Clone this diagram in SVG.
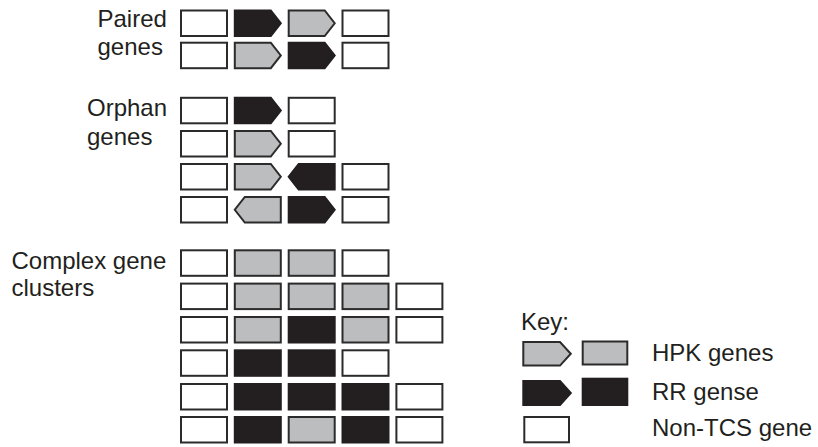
<svg xmlns="http://www.w3.org/2000/svg" xmlns:xlink="http://www.w3.org/1999/xlink" width="818" height="447" viewBox="0 0 818 447">
<style>
.w{fill:#ffffff;stroke:#2b2b2b;stroke-width:2}
.g{fill:#bcbdbf;stroke:#2b2b2b;stroke-width:2}
.b{fill:#231f20;stroke:#231f20;stroke-width:2}
.t{font-family:"Liberation Sans",Arial,sans-serif;font-size:24px;fill:#231f20}
</style>
<defs>
<rect id="box" x="1" y="1" width="46" height="25.5"/>
<path id="ar" d="M1,1H37L47,13.75L37,26.5H1Z"/>
<path id="al" d="M47,1H11L1,13.75L11,26.5H47Z"/>
</defs>
<rect width="818" height="447" fill="#ffffff"/>
<g id="labels">
<text class="t" x="97.5" y="27">Paired</text>
<text class="t" x="97.5" y="55">genes</text>
<text class="t" x="87" y="116">Orphan</text>
<text class="t" x="87" y="144.5">genes</text>
<text class="t" x="11.5" y="268.5">Complex gene</text>
<text class="t" x="11.5" y="296">clusters</text>
</g>
<g id="connectors"/>
<g id="paired">
<g id="p1c0"><use xlink:href="#box" class="w" x="180" y="9.5"/></g>
<g id="p1c1"><use xlink:href="#ar" class="b" x="233.8" y="9.5"/></g>
<g id="p1c2"><use xlink:href="#ar" class="g" x="287.7" y="9.5"/></g>
<g id="p1c3"><use xlink:href="#box" class="w" x="341.5" y="9.5"/></g>
<g id="p2c0"><use xlink:href="#box" class="w" x="180" y="41.7"/></g>
<g id="p2c1"><use xlink:href="#ar" class="g" x="233.8" y="41.7"/></g>
<g id="p2c2"><use xlink:href="#ar" class="b" x="287.7" y="41.7"/></g>
<g id="p2c3"><use xlink:href="#box" class="w" x="341.5" y="41.7"/></g>
</g>
<g id="orphan">
<g id="o1c0"><use xlink:href="#box" class="w" x="180" y="96.8"/></g>
<g id="o1c1"><use xlink:href="#ar" class="b" x="233.8" y="96.8"/></g>
<g id="o1c2"><use xlink:href="#box" class="w" x="287.7" y="96.8"/></g>
<g id="o2c0"><use xlink:href="#box" class="w" x="180" y="130"/></g>
<g id="o2c1"><use xlink:href="#ar" class="g" x="233.8" y="130"/></g>
<g id="o2c2"><use xlink:href="#box" class="w" x="287.7" y="130"/></g>
<g id="o3c0"><use xlink:href="#box" class="w" x="180" y="163"/></g>
<g id="o3c1"><use xlink:href="#ar" class="g" x="233.8" y="163"/></g>
<g id="o3c2"><use xlink:href="#al" class="b" x="287.7" y="163"/></g>
<g id="o3c3"><use xlink:href="#box" class="w" x="341.5" y="163"/></g>
<g id="o4c0"><use xlink:href="#box" class="w" x="180" y="196"/></g>
<g id="o4c1"><use xlink:href="#al" class="g" x="233.8" y="196"/></g>
<g id="o4c2"><use xlink:href="#ar" class="b" x="287.7" y="196"/></g>
<g id="o4c3"><use xlink:href="#box" class="w" x="341.5" y="196"/></g>
</g>
<g id="complex">
<g id="c1c0"><use xlink:href="#box" class="w" x="180" y="249.3"/></g>
<g id="c1c1"><use xlink:href="#box" class="g" x="233.8" y="249.3"/></g>
<g id="c1c2"><use xlink:href="#box" class="g" x="287.7" y="249.3"/></g>
<g id="c1c3"><use xlink:href="#box" class="w" x="341.5" y="249.3"/></g>
<g id="c2c0"><use xlink:href="#box" class="w" x="180" y="282.6"/></g>
<g id="c2c1"><use xlink:href="#box" class="g" x="233.8" y="282.6"/></g>
<g id="c2c2"><use xlink:href="#box" class="g" x="287.7" y="282.6"/></g>
<g id="c2c3"><use xlink:href="#box" class="g" x="341.5" y="282.6"/></g>
<g id="c2c4"><use xlink:href="#box" class="w" x="395.4" y="282.6"/></g>
<g id="c3c0"><use xlink:href="#box" class="w" x="180" y="316"/></g>
<g id="c3c1"><use xlink:href="#box" class="g" x="233.8" y="316"/></g>
<g id="c3c2"><use xlink:href="#box" class="b" x="287.7" y="316"/></g>
<g id="c3c3"><use xlink:href="#box" class="g" x="341.5" y="316"/></g>
<g id="c3c4"><use xlink:href="#box" class="w" x="395.4" y="316"/></g>
<g id="c4c0"><use xlink:href="#box" class="w" x="180" y="349.3"/></g>
<g id="c4c1"><use xlink:href="#box" class="b" x="233.8" y="349.3"/></g>
<g id="c4c2"><use xlink:href="#box" class="b" x="287.7" y="349.3"/></g>
<g id="c4c3"><use xlink:href="#box" class="w" x="341.5" y="349.3"/></g>
<g id="c5c0"><use xlink:href="#box" class="w" x="180" y="383"/></g>
<g id="c5c1"><use xlink:href="#box" class="b" x="233.8" y="383"/></g>
<g id="c5c2"><use xlink:href="#box" class="b" x="287.7" y="383"/></g>
<g id="c5c3"><use xlink:href="#box" class="b" x="341.5" y="383"/></g>
<g id="c5c4"><use xlink:href="#box" class="w" x="395.4" y="383"/></g>
<g id="c6c0"><use xlink:href="#box" class="w" x="180" y="416"/></g>
<g id="c6c1"><use xlink:href="#box" class="b" x="233.8" y="416"/></g>
<g id="c6c2"><use xlink:href="#box" class="g" x="287.7" y="416"/></g>
<g id="c6c3"><use xlink:href="#box" class="b" x="341.5" y="416"/></g>
<g id="c6c4"><use xlink:href="#box" class="w" x="395.4" y="416"/></g>
</g>
<g id="key">
<text class="t" x="521" y="330">Key:</text>
<g id="key-hpk">
<path class="g" d="M523.3,342H560L570.8,353.8L560,365.6H523.3Z"/>
<rect class="g" x="582.7" y="341.5" width="44.6" height="23"/>
<text class="t" x="652" y="361">HPK genes</text>
</g>
<g id="key-rr">
<path class="b" d="M523.3,381H560L570.8,393L560,405H523.3Z"/>
<rect class="b" x="582.7" y="378.7" width="44.6" height="26.3"/>
<text class="t" x="652" y="400">RR gense</text>
</g>
<g id="key-non">
<rect class="w" x="524.3" y="417" width="44.7" height="25.3"/>
<text class="t" x="652" y="435.5">Non-TCS gene</text>
</g>
</g>
</svg>
